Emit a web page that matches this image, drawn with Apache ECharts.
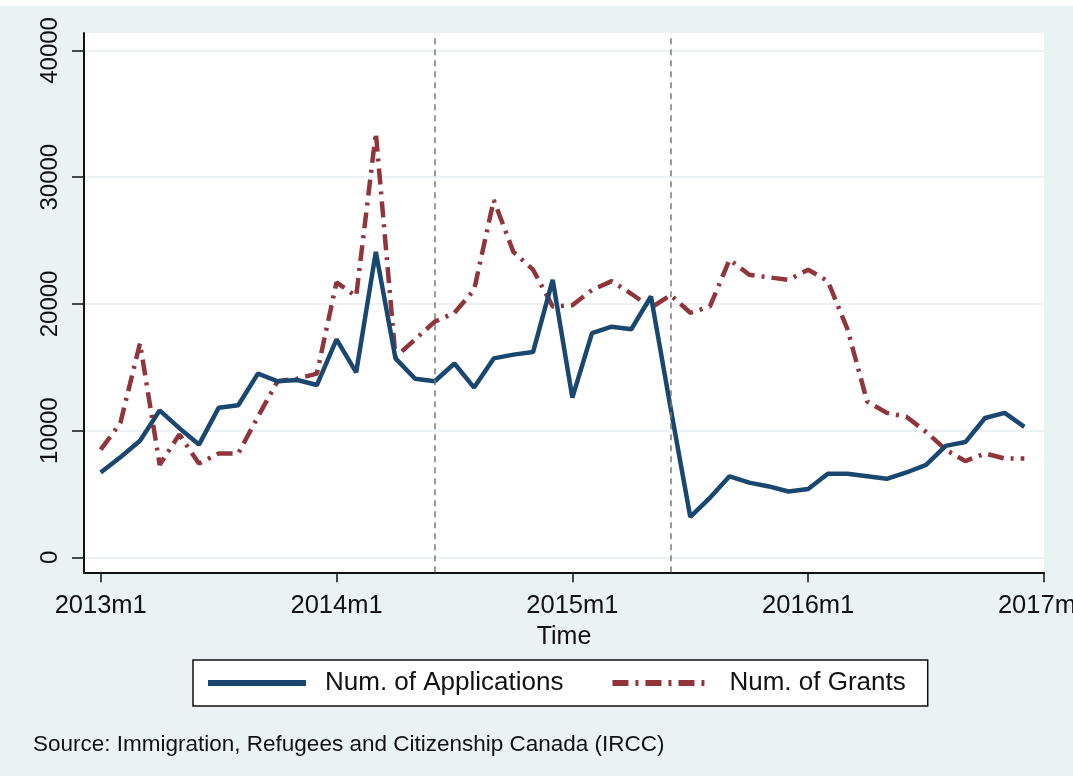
<!DOCTYPE html>
<html>
<head>
    <meta charset="utf-8">
    <title>Applications and Grants</title>
    <script src="https://cdn.jsdelivr.net/npm/echarts@6/dist/echarts.min.js"></script>
    <style>
        html, body { margin: 0; padding: 0; background: #fff; }
        #main { width: 1073px; height: 770px; margin-top: 6px; }
    </style>
</head>
<body>
    <div id="main"></div>
    <script>
        // monthly values, 2013m1 .. 2016m12
        var applications = [6700, 7900, 9200, 11600, 10200, 8900, 11800, 12000, 14500, 13900, 14000, 13600,
            17200, 14600, 24100, 15700, 14100, 13900, 15300, 13400, 15700, 16000, 16200, 21900,
            12600, 17700, 18200, 18000, 20600, 11800, 3200, 4700, 6400, 5900, 5600, 5200,
            5400, 6600, 6600, 6400, 6200, 6700, 7300, 8800, 9100, 11000, 11400, 10300];
        var grants = [8500, 10600, 16900, 7300, 9700, 7400, 8200, 8200, 11100, 13900, 14100, 14500,
            21700, 20600, 33500, 15800, 17200, 18600, 19300, 21100, 28200, 24100, 22700, 19800,
            19900, 21100, 21800, 20800, 19700, 20700, 19300, 19800, 23500, 22300, 22100, 21900,
            22700, 21800, 18000, 12300, 11400, 11100, 9900, 8500, 7600, 8200, 7800, 7800];
        var xTicks = [0, 12, 24, 36, 48];
        var xTickLabels = ['2013m1', '2014m1', '2015m1', '2016m1', '2017m1'];
        var yTicks = [0, 10000, 20000, 30000, 40000];
        var eventMonths = [17, 29]; // 2014m6, 2015m6

        var font = "'Liberation Sans', Arial, sans-serif";

        function toPairs(arr) {
            var out = [];
            for (var i = 0; i < arr.length; i++) out.push([i, arr[i]]);
            return out;
        }

        var myChart = echarts.init(document.getElementById('main'));
        var option = {
            backgroundColor: '#eaf2f3',
            animation: false,
            textStyle: { fontFamily: font },
            title: {
                text: 'Source: Immigration, Refugees and Citizenship Canada (IRCC)',
                left: 33,
                top: 727,
                padding: 0,
                textStyle: { fontFamily: font, fontSize: 22.5, fontWeight: 'normal', color: '#111' }
            },
            grid: {
                left: 84, top: 27, right: 29, bottom: 203.7,
                outerBoundsMode: 'none',
                containLabel: false,
                show: true, backgroundColor: '#fff', borderWidth: 0
            },
            legend: {
                left: 193,
                top: 654,
                padding: [10, 22, 10, 12],
                backgroundColor: '#fff',
                borderColor: '#111',
                borderWidth: 1.5,
                itemWidth: 98,
                itemHeight: 14,
                itemGap: 46,
                itemStyle: { opacity: 0 },
                lineStyle: { width: 6 },
                textStyle: { fontFamily: font, fontSize: 26, color: '#111', padding: [0, 0, 0, 14] },
                data: ['Num. of Applications', 'Num. of Grants']
            },
            xAxis: {
                type: 'value',
                min: -0.85,
                max: 48,
                name: 'Time',
                nameLocation: 'middle',
                nameGap: 41,
                nameTextStyle: { fontFamily: font, fontSize: 25, color: '#111' },
                axisLine: { show: true, onZero: false, lineStyle: { color: '#111', width: 2 } },
                axisTick: { show: true, length: 10, customValues: xTicks, lineStyle: { color: '#111', width: 1.5 } },
                axisLabel: {
                    customValues: xTicks,
                    margin: 21,
                    fontSize: 25.5,
                    color: '#111',
                    formatter: function (v) { return xTickLabels[xTicks.indexOf(v)] || ''; }
                },
                splitLine: { show: false }
            },
            yAxis: {
                type: 'value',
                min: -1176,
                max: 41376,
                axisLine: { show: true, onZero: false, lineStyle: { color: '#111', width: 2 } },
                axisTick: { show: true, length: 12, customValues: yTicks, lineStyle: { color: '#111', width: 1.5 } },
                axisLabel: {
                    customValues: yTicks,
                    rotate: 90,
                    margin: 22,
                    fontSize: 24,
                    color: '#111',
                    formatter: function (v) { return String(v); }
                },
                splitLine: { show: true, lineStyle: { color: '#e6eeef', width: 1.5 } }
            },
            series: [
                {
                    name: 'Num. of Applications',
                    type: 'line',
                    symbol: 'none',
                    data: toPairs(applications),
                    lineStyle: { color: '#1a476f', width: 4.5 },
                    itemStyle: { color: '#1a476f' },
                    z: 3,
                    markLine: {
                        silent: true,
                        symbol: 'none',
                        label: { show: false },
                        lineStyle: { color: '#7a7a7a', width: 1.5, type: [6, 5] },
                        data: eventMonths.map(function (m) { return { xAxis: m }; })
                    }
                },
                {
                    name: 'Num. of Grants',
                    type: 'line',
                    symbol: 'none',
                    data: toPairs(grants),
                    lineStyle: { color: '#90353b', width: 4.5, type: [16, 7, 3, 7] },
                    itemStyle: { color: '#90353b' },
                    z: 2
                }
            ]
        };
        myChart.setOption(option);
    </script>
</body>
</html>
